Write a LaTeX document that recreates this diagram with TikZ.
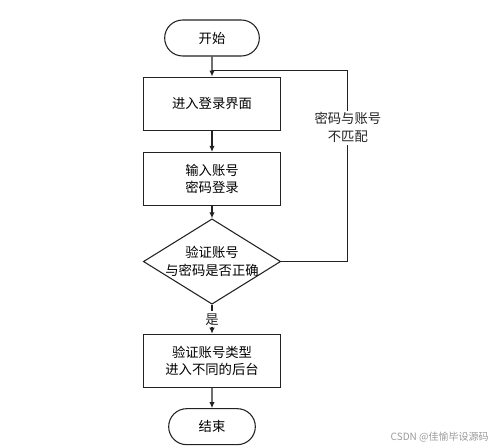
\documentclass[tikz,border=0pt]{standalone}
\usepackage{fontspec}
\setmainfont{Noto Sans CJK SC}
\usepackage{tikz}
\usetikzlibrary{arrows.meta,positioning,shapes.geometric,shapes.misc,calc}
\definecolor{xianse}{HTML}{222222}
\definecolor{shuiyin}{HTML}{9A9A9A}
\tikzset{
  kuang/.style={draw=xianse,thick,fill=white,align=center,font=\fontsize{10}{13}\selectfont,
                inner sep=2pt,minimum width=103pt,minimum height=40pt},
  duan/.style={kuang,rounded rectangle,minimum height=27pt},
  jiantou/.style={-{Latex[length=4.5pt,width=4pt]},thick,color=xianse},
}
\begin{document}
\begin{tikzpicture}[node distance=15pt,
  panduan/.style={kuang,diamond,aspect=1.6,minimum width=103pt,minimum height=64pt,
                  inner xsep=-4.3pt,inner ysep=0pt},
  biaozhu/.style={fill=white,align=center,font=\fontsize{10}{13.5}\selectfont,inner sep=1.5pt}]
  \useasboundingbox (0,0) rectangle (374.25pt,-335.25pt);
  \node[duan,minimum width=75pt] (kaishi) at (159pt,-28.5pt) {开始};
  \node[kuang,below=15pt of kaishi] (jinru) {进入登录界面};
  \node[kuang,below=15.75pt of jinru] (shuru) {输入账号\\密码登录};
  \node[panduan,below=9pt of shuru] (yanzheng) {验证账号\\与密码是否正确};
  \node[kuang,below=21.75pt of yanzheng] (leixing) {验证账号类型\\进入不同的后台};
  \node[duan,minimum width=69pt,below=15pt of leixing] (jieshu) {结束};
  \coordinate[above=4.5pt of jinru] (hui);
  % main flow
  \foreach \u/\v in {kaishi/jinru,shuru/yanzheng,leixing/jieshu,jinru/shuru} \draw[jiantou] (\u) -- (\v);
  \draw[jiantou] (yanzheng) -- (leixing) node[midway,biaozhu] {是};
  % back loop
  \draw[thick,color=xianse] (yanzheng.east) -- ++(50pt,0) coordinate (youxia)
    -- (youxia |- hui) node[pos=0.7,biaozhu] {密码与账号\\不匹配} -- (hui);
  \node[font=\fontsize{7.5}{9}\selectfont,text=shuiyin,anchor=east] (csdn) at (370pt,-327.75pt) {CSDN @佳愉毕设源码};
\end{tikzpicture}
\end{document}
